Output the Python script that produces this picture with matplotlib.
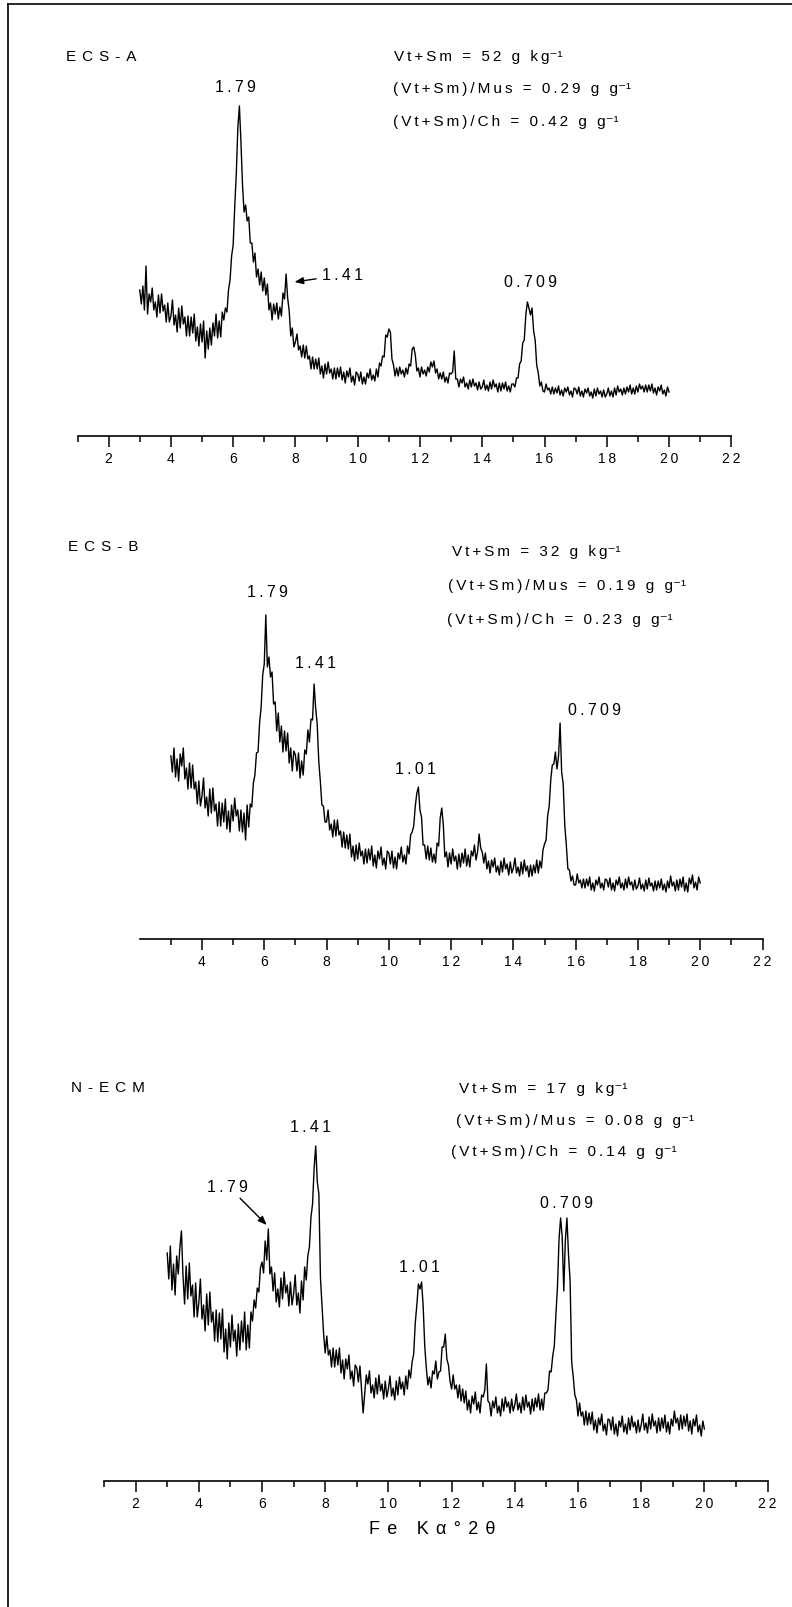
import matplotlib
matplotlib.use("Agg")
import matplotlib.pyplot as plt
from matplotlib.lines import Line2D
import numpy as np

plt.rcParams['font.family'] = ['Liberation Sans', 'DejaVu Sans']

W, H = 792, 1608

# Fe K-alpha scans, 0.05 degree 2-theta steps from 3 to 20
two_theta = np.round(np.arange(300, 2001, 5) / 100, 2)

# relative intensity, one row per degree (3.00 .. 3.95, 4.00 .. 4.95, ...)
ecs_a = [
    146, 132, 150, 126, 170, 122, 142, 134, 148, 126, 134, 119, 141, 123, 142, 125, 131, 114, 133, 114,
    120, 136, 111, 121, 104, 128, 108, 130, 112, 119, 100, 120, 100, 119, 103, 122, 95, 109, 90, 112,
    94, 115, 78, 105, 87, 108, 91, 113, 100, 122, 98, 115, 99, 124, 116, 128, 124, 146, 156, 180,
    191, 229, 262, 308, 330, 294, 251, 224, 231, 215, 219, 193, 193, 174, 183, 159, 167, 151, 164, 145,
    158, 141, 152, 126, 133, 116, 132, 122, 133, 117, 129, 120, 143, 137, 162, 138, 125, 100, 108, 89,
    94, 102, 86, 90, 79, 91, 78, 90, 77, 80, 67, 79, 67, 77, 67, 78, 62, 70, 58, 72,
    62, 74, 63, 67, 57, 68, 57, 68, 59, 69, 56, 64, 53, 65, 59, 68, 54, 60, 51, 64,
    62, 55, 64, 52, 59, 52, 63, 58, 67, 56, 61, 55, 67, 59, 73, 70, 80, 79, 101, 99,
    107, 104, 77, 71, 60, 68, 60, 69, 62, 66, 59, 68, 62, 72, 70, 87, 89, 81, 65, 68,
    59, 69, 62, 66, 60, 69, 64, 74, 69, 75, 63, 67, 57, 63, 57, 64, 54, 59, 53, 63,
    62, 64, 85, 57, 57, 49, 57, 53, 59, 49, 53, 47, 56, 49, 57, 50, 53, 46, 54, 47,
    49, 56, 46, 51, 45, 54, 47, 56, 49, 52, 44, 53, 45, 53, 47, 54, 45, 50, 44, 52,
    52, 49, 58, 58, 72, 75, 93, 96, 121, 134, 128, 121, 128, 105, 96, 71, 63, 50, 54, 45,
    44, 52, 46, 48, 42, 49, 42, 48, 43, 50, 41, 46, 40, 48, 44, 49, 41, 45, 39, 48,
    47, 42, 49, 40, 45, 39, 47, 43, 48, 40, 44, 38, 47, 40, 48, 42, 45, 39, 46, 39,
    42, 48, 40, 45, 39, 48, 41, 50, 44, 47, 41, 48, 42, 49, 44, 51, 42, 48, 42, 50,
    44, 52, 47, 50, 44, 51, 44, 51, 45, 52, 43, 48, 41, 49, 45, 51, 42, 46, 40, 49,
    44,
]

ecs_b = [
    183, 167, 191, 162, 180, 158, 185, 173, 191, 160, 171, 150, 176, 151, 174, 150, 157, 135, 158, 133,
    143, 161, 131, 142, 123, 150, 126, 151, 128, 135, 113, 137, 113, 136, 117, 140, 110, 128, 107, 134,
    118, 141, 123, 129, 108, 129, 107, 126, 99, 134, 112, 135, 132, 156, 164, 186, 187, 216, 232, 264,
    275, 324, 272, 282, 262, 267, 235, 237, 208, 226, 197, 213, 187, 208, 188, 206, 176, 191, 168, 188,
    184, 168, 186, 161, 178, 164, 189, 185, 209, 197, 220, 219, 255, 231, 215, 178, 158, 134, 133, 117,
    117, 129, 109, 115, 102, 119, 103, 119, 104, 108, 92, 107, 91, 104, 90, 105, 82, 93, 78, 94,
    80, 96, 83, 88, 75, 90, 76, 90, 79, 93, 73, 84, 71, 88, 80, 92, 74, 81, 70, 88,
    86, 75, 88, 71, 82, 70, 86, 80, 92, 77, 84, 75, 93, 85, 104, 107, 113, 133, 146, 152,
    129, 122, 94, 94, 80, 93, 79, 91, 77, 85, 76, 96, 93, 121, 131, 114, 82, 87, 72, 86,
    75, 90, 78, 83, 70, 85, 72, 86, 76, 90, 73, 84, 72, 88, 83, 94, 79, 87, 105, 91,
    87, 76, 86, 70, 78, 66, 79, 72, 81, 67, 73, 64, 78, 67, 81, 70, 75, 64, 77, 66,
    71, 81, 66, 72, 63, 77, 65, 79, 68, 73, 62, 74, 63, 74, 66, 79, 66, 78, 71, 89,
    95, 99, 123, 133, 159, 174, 175, 187, 170, 183, 216, 167, 155, 114, 94, 70, 69, 58, 63, 54,
    54, 65, 56, 59, 51, 60, 51, 60, 53, 62, 49, 56, 48, 59, 54, 62, 51, 56, 49, 60,
    59, 52, 61, 49, 56, 48, 59, 54, 62, 51, 56, 49, 60, 51, 62, 54, 57, 49, 59, 50,
    53, 61, 50, 55, 48, 59, 50, 61, 53, 56, 48, 58, 49, 58, 51, 60, 49, 55, 47, 58,
    51, 63, 53, 57, 48, 59, 49, 60, 52, 62, 48, 56, 47, 61, 55, 64, 51, 57, 49, 62,
    56,
]

n_ecm = [
    228, 202, 235, 191, 217, 186, 225, 207, 233, 250, 205, 177, 215, 182, 218, 185, 196, 164, 198, 164,
    178, 202, 162, 176, 150, 187, 156, 189, 159, 169, 140, 171, 139, 168, 142, 172, 129, 152, 122, 158,
    134, 166, 140, 151, 125, 157, 131, 160, 139, 169, 131, 156, 133, 169, 160, 181, 173, 193, 189, 213,
    219, 208, 240, 221, 252, 207, 214, 190, 208, 179, 192, 174, 203, 182, 209, 188, 196, 175, 199, 176,
    187, 206, 176, 188, 168, 200, 181, 214, 201, 225, 234, 264, 277, 313, 335, 299, 287, 203, 174, 147,
    128, 145, 126, 131, 114, 133, 114, 131, 116, 133, 108, 121, 102, 122, 112, 126, 102, 110, 95, 116,
    113, 99, 115, 92, 68, 87, 106, 97, 110, 88, 96, 83, 103, 87, 106, 90, 97, 82, 100, 84,
    92, 105, 85, 93, 81, 100, 86, 104, 92, 99, 86, 105, 92, 111, 103, 119, 127, 158, 176, 197,
    192, 199, 175, 135, 113, 96, 104, 93, 110, 107, 120, 102, 109, 110, 134, 134, 147, 122, 116, 100,
    92, 106, 92, 96, 83, 96, 80, 92, 78, 90, 71, 81, 68, 85, 77, 89, 71, 79, 68, 86,
    84, 91, 117, 80, 78, 65, 80, 73, 84, 68, 75, 65, 82, 70, 84, 74, 79, 68, 82, 70,
    76, 87, 71, 78, 68, 84, 71, 86, 74, 79, 67, 82, 70, 83, 74, 87, 71, 82, 71, 88,
    88, 91, 110, 109, 125, 135, 166, 194, 242, 263, 244, 190, 241, 263, 226, 200, 119, 104, 86, 81,
    65, 78, 65, 69, 56, 70, 56, 68, 57, 69, 51, 61, 48, 63, 56, 67, 50, 57, 46, 62,
    61, 51, 64, 47, 57, 45, 60, 54, 65, 49, 57, 47, 63, 51, 65, 54, 59, 48, 61, 49,
    56, 67, 51, 58, 48, 64, 52, 67, 55, 60, 48, 63, 50, 63, 53, 66, 49, 59, 47, 62,
    55, 70, 58, 63, 51, 66, 52, 65, 55, 67, 50, 60, 47, 62, 55, 66, 49, 56, 45, 60,
    52,
]

samples = ['ECS-A', 'ECS-B', 'N-ECM']
vt_sm = ['52', '32', '17']
ratio_mus = ['0.29', '0.19', '0.08']
ratio_ch = ['0.42', '0.23', '0.14']
scans = [ecs_a, ecs_b, n_ecm]

SUP = '\u207b\u00b9'


def spaced(s, n=1):
    # the original lettering is widely tracked
    return ('\u2009' * n).join(s)


def fx(px):
    return px / W


def fy(py):
    return 1 - py / H


fig = plt.figure(figsize=(W / 100, H / 100), dpi=100)

# panel layout in pixels: left (x0), right (x1), axis line y, x range
panels = [
    dict(x0=77.5, x1=731.3, base=437, xlim=(1, 22), minor0=1,
         title=(66, 57), info=[(394, 57), (393, 89), (393, 122)],
         peaks=[('1.79', 6.08, 349), ('0.709', 15.54, 154)],
         arrows=[('1.41', (9.5, 161), (7.97, 154))]),
    dict(x0=139.7, x1=762.5, base=940, xlim=(2, 22), minor0=3,
         title=(68, 547), info=[(452, 552), (448, 586), (447, 620)],
         peaks=[('1.79', 6.09, 347), ('1.41', 7.66, 276),
                ('1.01', 10.84, 170), ('0.709', 16.59, 229)],
         arrows=[]),
    dict(x0=104, x1=767.6, base=1482, xlim=(1, 22), minor0=1,
         title=(71, 1088), info=[(459, 1089), (456, 1121), (451, 1152)],
         peaks=[('1.41', 7.52, 355), ('1.01', 10.99, 214),
                ('0.709', 15.64, 278)],
         arrows=[('1.79', (4.92, 295), (6.15, 256))]),
]

AX_H = 400  # axes height in px, y data is in the same px units

for i, p in enumerate(panels):
    ax = fig.add_axes([fx(p['x0']), fy(p['base']),
                       (p['x1'] - p['x0']) / W, AX_H / H])
    ax.patch.set_visible(False)
    ax.plot(two_theta, scans[i], color='black', lw=1.0)
    ax.set_xlim(*p['xlim'])
    ax.set_ylim(0, AX_H)
    for side in ['top', 'right', 'left']:
        ax.spines[side].set_visible(False)
    ax.spines['bottom'].set_linewidth(1.2)
    ax.set_yticks([])
    major = [v for v in range(2, 23, 2) if v > p['xlim'][0]]
    ax.set_xticks(major, labels=[spaced(str(v)) for v in major])
    ax.set_xticks(list(range(p['minor0'], 22, 2)), minor=True)
    ax.tick_params(axis='x', which='major', direction='out', length=8,
                   width=1.1, labelsize=10, pad=3)
    ax.tick_params(axis='x', which='minor', direction='out', length=4.5,
                   width=1.1)

    for txt, xv, yv in p['peaks']:
        ax.text(xv, yv, spaced(txt), ha='center', va='center', fontsize=11.5)
    for txt, xyt, xy in p['arrows']:
        ax.annotate(spaced(txt), xy=xy, xytext=xyt, ha='center', va='center',
                    fontsize=11.5,
                    arrowprops=dict(arrowstyle='-|>,head_length=0.45,head_width=0.18',
                                    color='black', lw=1.0, shrinkB=0))

    tx, ty = p['title']
    fig.text(fx(tx), fy(ty), spaced(samples[i], 2), ha='left', va='center',
             fontsize=11)
    lines = [spaced('Vt+Sm = %s g kg' % vt_sm[i]) + SUP,
             spaced('(Vt+Sm)/Mus = %s g g' % ratio_mus[i]) + SUP,
             spaced('(Vt+Sm)/Ch = %s g g' % ratio_ch[i]) + SUP]
    for (lx, ly), s in zip(p['info'], lines):
        fig.text(fx(lx), fy(ly), s, ha='left', va='center', fontsize=11)

fig.text(fx(432), fy(1530), spaced('Fe K\u03b1\u00b02\u03b8', 2), ha='center',
         va='center', fontsize=13)

# scanned page border (top and left edges)
fig.add_artist(Line2D([fx(8), 1], [fy(5), fy(5)], color='black', lw=1.2))
fig.add_artist(Line2D([fx(8), fx(8)], [0, fy(5)], color='black', lw=1.2))

fig.savefig('out.png', dpi=100)
